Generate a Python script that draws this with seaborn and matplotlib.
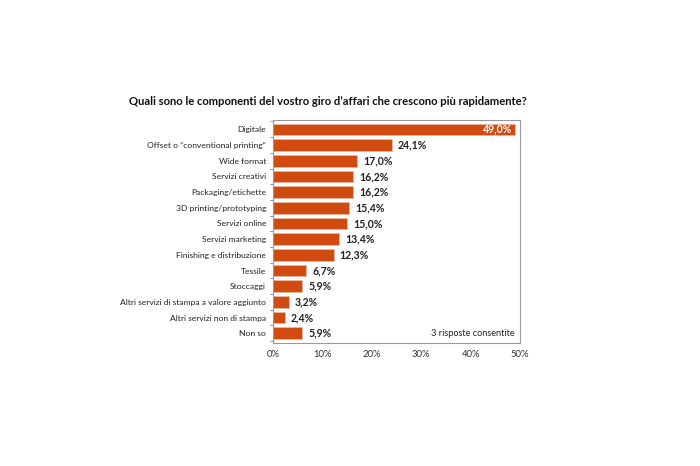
import matplotlib
matplotlib.use("Agg")
import matplotlib.pyplot as plt
import seaborn as sns
import pandas as pd

# dati
categorie = [
    "Digitale",
    "Offset o \u201cconventional printing\u201d",
    "Wide format",
    "Servizi creativi",
    "Packaging/etichette",
    "3D printing/prototyping",
    "Servizi online",
    "Servizi marketing",
    "Finishing e distribuzione",
    "Tessile",
    "Stoccaggi",
    "Altri servizi di stampa a valore aggiunto",
    "Altri servizi non di stampa",
    "Non so",
]
valori = [49.0, 24.1, 17.0, 16.2, 16.2, 15.4, 15.0, 13.4, 12.3, 6.7, 5.9, 3.2, 2.4, 5.9]
x_ticks = [0, 10, 20, 30, 40, 50]

titolo = "Quali sono le componenti del vostro giro d\u2019affari che crescono pi\u00f9 rapidamente?"
nota = "3 risposte consentite"

df = pd.DataFrame({"categoria": categorie, "valore": valori})

sns.set_style("white")
plt.rcParams["font.family"] = ["Lato", "DejaVu Sans"]

colore = "#D14B10"

fig = plt.figure(figsize=(7, 4.66), dpi=100)
ax = fig.add_axes([0.39, 0.264, 0.353, 0.478])

sns.barplot(data=df, x="valore", y="categoria", color=colore, saturation=1,
            width=0.74, ax=ax, edgecolor="#E8B9A0", linewidth=0.6)

n = len(categorie)
ax.set_ylim(n - 0.5 + 0.12, -0.5 - 0.08)
ax.set_xlim(0, 50)
ax.set_xticks(x_ticks)
ax.set_xticklabels([f"{t}%" for t in x_ticks], fontsize=6.8, color="#333333")
ax.set_xlabel("")
ax.set_ylabel("")
ax.tick_params(axis="y", length=0, labelsize=6.1, labelcolor="#222222", pad=5)
ax.tick_params(axis="x", length=3, width=0.6, color="#888888", pad=2)

# piccoli tick tra le categorie a sinistra
for i in range(n + 1):
    ax.plot([-0.6, 0], [i - 0.5, i - 0.5], color="#888888", lw=0.6, clip_on=False)

for s in ["top", "right", "left", "bottom"]:
    ax.spines[s].set_visible(True)
    ax.spines[s].set_color("#999999")
    ax.spines[s].set_linewidth(0.8)

# etichette valori
for i, v in enumerate(valori):
    testo = f"{v:.1f}%".replace(".", ",")
    if v > 40:
        ax.text(v - 0.6, i, testo, ha="right", va="center", color="white",
                fontsize=7.6, fontweight="bold")
    else:
        ax.text(v + 1.2, i, testo, ha="left", va="center", color="#222222",
                fontsize=7.6, fontweight="bold")

ax.text(40.5, n - 1, nota, ha="center", va="center",
        fontsize=6.6, color="#222222")

fig.text(0.469, 0.782, titolo, ha="center", va="center", fontsize=8.15,
         fontweight="bold", color="#111111")

fig.savefig("out.png", dpi=100, facecolor="white")
